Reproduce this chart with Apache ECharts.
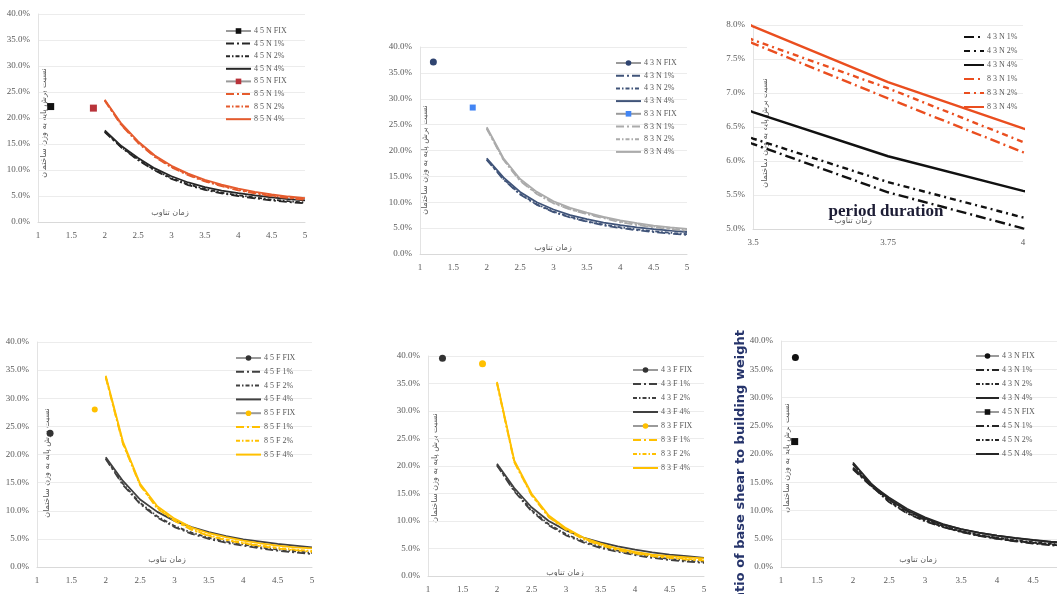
<!DOCTYPE html>
<html><head><meta charset="utf-8">
<script src="https://cdn.jsdelivr.net/npm/echarts@6/dist/echarts.min.js"></script>
<style>
html,body{margin:0;padding:0;background:#fff;width:1057px;height:594px;overflow:hidden;position:relative}
.c{position:absolute}
</style></head><body>
<div id="c1" class="c" style="left:0;top:0;width:350px;height:300px"></div>
<div id="c2" class="c" style="left:350px;top:0;width:350px;height:300px"></div>
<div id="c3" class="c" style="left:700px;top:0;width:357px;height:300px"></div>
<div id="c4" class="c" style="left:0;top:300px;width:350px;height:294px"></div>
<div id="c5" class="c" style="left:350px;top:300px;width:360px;height:294px"></div>
<div id="c6" class="c" style="left:710px;top:300px;width:390px;height:294px"></div>
<script>
// ---------- data (ratio in %) ----------
const periods = [2,2.25,2.5,2.75,3,3.25,3.5,3.75,4,4.25,4.5,4.75,5];

// 4 5 N / 8 5 N
const n45_fix = [1.19, 22.2];
const n45_1 = [17.3,14.3,11.9,9.9,8.3,7.1,6.2,5.5,5.0,4.55,4.15,3.85,3.6];
const n45_2 = [17.4,14.4,12.0,10.0,8.45,7.25,6.35,5.65,5.15,4.7,4.3,4.0,3.75];
const n45_4 = [17.6,14.6,12.3,10.3,8.8,7.6,6.7,6.05,5.55,5.1,4.75,4.4,4.15];
const n85_fix = [1.83, 21.9];
const n85_1 = [23.3,18.6,15.2,12.5,10.5,9.0,7.8,6.9,6.1,5.5,5.0,4.6,4.3];
const n85_2 = [23.4,18.7,15.3,12.6,10.6,9.1,7.9,7.0,6.2,5.6,5.1,4.7,4.4];
const n85_4 = [23.5,18.9,15.5,12.8,10.8,9.3,8.1,7.2,6.4,5.8,5.3,4.9,4.6];

// 4 3 N / 8 3 N
const n43_fix = [1.2, 37.1];
const n43_1 = [18.2,14.4,11.5,9.5,8.1,7.05,6.25,5.54,5.01,4.6,4.25,3.95,3.7];
const n43_2 = [18.3,14.5,11.6,9.6,8.2,7.15,6.33,5.69,5.17,4.75,4.4,4.1,3.85];
const n43_4 = [18.5,14.8,12.0,10.0,8.6,7.5,6.72,6.07,5.56,5.15,4.8,4.5,4.25];
const n83_fix = [1.79, 28.3];
const n83_1 = [24.2,18.2,14.1,11.6,9.8,8.6,7.73,6.92,6.13,5.6,5.15,4.8,4.5];
const n83_2 = [24.3,18.3,14.2,11.7,9.9,8.65,7.78,7.07,6.28,5.75,5.3,4.95,4.65];
const n83_4 = [24.5,18.5,14.5,12.0,10.2,8.9,7.98,7.16,6.48,5.95,5.5,5.15,4.85];

// 4 5 F / 8 5 F
const f45_fix = [1.19, 23.8];
const f45_1 = [19.2,14.6,11.2,8.8,7.1,5.9,5.0,4.3,3.8,3.3,2.9,2.6,2.3];
const f45_2 = [19.3,14.8,11.4,9.0,7.3,6.1,5.2,4.5,4.0,3.5,3.1,2.8,2.5];
const f45_4 = [19.5,15.3,12.0,9.8,8.2,7.1,6.2,5.5,4.9,4.5,4.1,3.8,3.5];
const f85_fix = [1.84, 28.0];
const f85_1 = [33.7,21.9,14.5,10.4,8.2,6.6,5.5,4.8,4.2,3.7,3.3,3.0,2.7];
const f85_2 = [33.8,22.0,14.6,10.5,8.3,6.7,5.6,4.9,4.3,3.8,3.4,3.1,2.85];
const f85_4 = [34.0,22.3,14.8,10.8,8.6,7.0,6.0,5.3,4.7,4.2,3.8,3.5,3.3];

// 4 3 F / 8 3 F
const f43_fix = [1.21, 39.6];
const f43_1 = [20.1,15.4,11.8,9.2,7.4,6.1,5.1,4.4,3.8,3.3,2.9,2.6,2.4];
const f43_2 = [20.2,15.6,12.0,9.4,7.6,6.3,5.3,4.6,4.0,3.5,3.1,2.8,2.6];
const f43_4 = [20.4,16.0,12.5,10.0,8.3,7.0,6.1,5.4,4.8,4.3,3.9,3.6,3.3];
const f83_fix = [1.79, 38.6];
const f83_1 = [35.0,20.7,14.7,10.7,8.4,6.7,5.6,4.7,4.1,3.6,3.3,3.0,2.8];
const f83_2 = [35.1,20.8,14.8,10.8,8.5,6.8,5.7,4.8,4.2,3.7,3.4,3.1,2.9];
const f83_4 = [35.3,21.0,15.0,11.0,8.7,7.0,5.9,5.0,4.4,3.9,3.6,3.4,3.2];

const yTitle = 'نسبت برش پایه به وزن ساختمان';
const xTitle = 'زمان تناوب';
const noteX = 'period duration';
const noteY = 'ratio of base shear to building weight';

// ---------- helpers ----------
const SERIF = 'Liberation Serif';
const LBL = '#595959';
const D1 = [8,3,2,3], D2 = [4,2,1.5,2];

function curve(name, ys, color, dash, w) {
  return {type:'line', name, data: periods.map((x,i)=>[x, ys[i]]), symbol:'none',
    lineStyle:{color, width:w||1.8, type:dash||'solid'}, itemStyle:{color}, animation:false, z:3};
}
function fix(name, pt, color, sym, size) {
  return {type:'line', name, data:[pt], symbol:sym||'circle', symbolSize:size||7, showSymbol:true,
    lineStyle:{color:'#9a9a9a', width:1}, itemStyle:{color}, animation:false, z:4};
}
function xAx(min,max,interval){
  return {type:'value', min, max, interval,
    axisLine:{show:true, lineStyle:{color:'#d9d9d9'}}, axisTick:{show:false}, splitLine:{show:false},
    axisLabel:{color:LBL, fontFamily:SERIF, fontSize:9, margin:9, formatter:v=>String(v)}};
}
function yAx(min,max,interval){
  return {type:'value', min, max, interval,
    axisLine:{show:true, lineStyle:{color:'#e3e3e3'}}, axisTick:{show:false},
    splitLine:{lineStyle:{color:'#ececec'}},
    axisLabel:{color:LBL, fontFamily:SERIF, fontSize:9, margin:8, formatter:v=>v.toFixed(1)+'%'}};
}
// legend: FIX entries keep their marker, curve entries show only the line
function legend(left, top, gap, names, w){
  return {orient:'vertical', left, top, itemWidth:w||25, itemHeight:7, itemGap:gap, selectedMode:false,
    textStyle:{fontFamily:SERIF, fontSize:8, color:LBL, padding:[0,0,0,-2]},
    data:names.map(n => n.indexOf('FIX') >= 0 ? {name:n} : {name:n, itemStyle:{opacity:0}})};
}
function titles(yx, yy, xx, xy){
  return [
    {type:'text', x:yx, y:yy, rotation:Math.PI/2, style:{text:yTitle, fontSize:8, fill:LBL, fontFamily:'DejaVu Sans', align:'center', verticalAlign:'middle'}},
    {type:'text', x:xx, y:xy, style:{text:xTitle, fontSize:8, fill:LBL, fontFamily:'DejaVu Sans', align:'center', verticalAlign:'middle'}}
  ];
}
function make(id, opt){
  const ch = echarts.init(document.getElementById(id), null, {renderer:'canvas'});
  opt.animation = false;
  ch.setOption(opt);
}

// ---------- chart 1 ----------
const BLK = '#262626', RED = '#E55B2D';
make('c1', {
  grid:{left:38, top:14, width:267, height:208},
  xAxis: xAx(1,5,0.5), yAxis: yAx(0,40,5),
  legend: legend(220, 22, 4.6, ['4 5 N FIX','4 5 N 1%','4 5 N 2%','4 5 N 4%','8 5 N FIX','8 5 N 1%','8 5 N 2%','8 5 N 4%']),
  graphic: titles(44, 123, 170, 213),
  series:[
    fix('4 5 N FIX', n45_fix, '#111', 'rect'),
    curve('4 5 N 1%', n45_1, BLK, D1), curve('4 5 N 2%', n45_2, BLK, D2), curve('4 5 N 4%', n45_4, BLK),
    fix('8 5 N FIX', n85_fix, '#B8333A', 'rect'),
    curve('8 5 N 1%', n85_1, RED, D1), curve('8 5 N 2%', n85_2, RED, D2), curve('8 5 N 4%', n85_4, RED)
  ]
});

// ---------- chart 2 ----------
const NAVY = '#405479', GRY = '#ababab';
make('c2', {
  grid:{left:70, top:47, width:267, height:207},
  xAxis: xAx(1,5,0.5), yAxis: yAx(0,40,5),
  legend: legend(260, 54, 4.7, ['4 3 N FIX','4 3 N 1%','4 3 N 2%','4 3 N 4%','8 3 N FIX','8 3 N 1%','8 3 N 2%','8 3 N 4%']),
  graphic: titles(75, 160, 203, 248),
  series:[
    fix('4 3 N FIX', n43_fix, '#2F4470'),
    curve('4 3 N 1%', n43_1, NAVY, D1), curve('4 3 N 2%', n43_2, NAVY, D2), curve('4 3 N 4%', n43_4, NAVY),
    fix('8 3 N FIX', n83_fix, '#4285F4', 'rect', 6),
    curve('8 3 N 1%', n83_1, GRY, D1), curve('8 3 N 2%', n83_2, GRY, D2), curve('8 3 N 4%', n83_4, GRY)
  ]
});

// ---------- chart 3 (zoom 3.5 - 4) ----------
const OR3 = '#EA4E1F', BK3 = '#111111';
make('c3', {
  grid:{left:53, top:25, width:270, height:204},
  xAxis: xAx(3.5,4,0.25), yAxis: yAx(5,8,0.5),
  legend: legend(258, 28, 6, ['4 3 N 1%','4 3 N 2%','4 3 N 4%','8 3 N 1%','8 3 N 2%','8 3 N 4%'], 20),
  graphic: titles(65, 133, 153, 221).concat([
    {type:'text', x:186, y:212, z:100, style:{text:noteX, fontSize:17, fontWeight:'bold', fill:'#1d1d35', fontFamily:SERIF, align:'center', verticalAlign:'middle'}}
  ]),
  series:[
    curve('4 3 N 1%', n43_1, BK3, [10,4,2,4], 2.4), curve('4 3 N 2%', n43_2, BK3, [6,4,2,4], 2.4), curve('4 3 N 4%', n43_4, BK3, 'solid', 2.4),
    curve('8 3 N 1%', n83_1, OR3, [10,4,2,4], 2.4), curve('8 3 N 2%', n83_2, OR3, [6,4,2,4], 2.4), curve('8 3 N 4%', n83_4, OR3, 'solid', 2.4)
  ]
});

// ---------- chart 4 ----------
const DG = '#404040', YEL = '#FFC000';
make('c4', {
  grid:{left:37, top:42, width:275, height:225},
  xAxis: xAx(1,5,0.5), yAxis: yAx(0,40,5),
  legend: legend(230, 49, 5.8, ['4 5 F FIX','4 5 F 1%','4 5 F 2%','4 5 F 4%','8 5 F FIX','8 5 F 1%','8 5 F 2%','8 5 F 4%']),
  graphic: titles(47, 163, 167, 260),
  series:[
    fix('4 5 F FIX', f45_fix, '#333'),
    curve('4 5 F 1%', f45_1, DG, D1), curve('4 5 F 2%', f45_2, DG, D2), curve('4 5 F 4%', f45_4, DG),
    fix('8 5 F FIX', f85_fix, YEL, 'circle', 6),
    curve('8 5 F 1%', f85_1, YEL, D1), curve('8 5 F 2%', f85_2, YEL, D2), curve('8 5 F 4%', f85_4, YEL)
  ]
});

// ---------- chart 5 ----------
make('c5', {
  grid:{left:78, top:56, width:276, height:223},
  xAxis: xAx(1,5,0.5), yAxis: yAx(0,40,5),
  legend: legend(277, 61, 6, ['4 3 F FIX','4 3 F 1%','4 3 F 2%','4 3 F 4%','8 3 F FIX','8 3 F 1%','8 3 F 2%','8 3 F 4%']),
  graphic: titles(85, 168, 215, 273),
  series:[
    fix('4 3 F FIX', f43_fix, '#333'),
    curve('4 3 F 1%', f43_1, DG, D1), curve('4 3 F 2%', f43_2, DG, D2), curve('4 3 F 4%', f43_4, DG),
    fix('8 3 F FIX', f83_fix, YEL),
    curve('8 3 F 1%', f83_1, YEL, D1), curve('8 3 F 2%', f83_2, YEL, D2), curve('8 3 F 4%', f83_4, YEL)
  ]
});

// ---------- chart 6 ----------
make('c6', {
  grid:{left:71, top:41, width:288, height:226},
  xAxis: xAx(1,5,0.5), yAxis: yAx(0,40,5),
  legend: legend(260, 47, 6, ['4 3 N FIX','4 3 N 1%','4 3 N 2%','4 3 N 4%','4 5 N FIX','4 5 N 1%','4 5 N 2%','4 5 N 4%'], 23),
  graphic: titles(77, 158, 208, 260).concat([
    {type:'text', x:31, y:30, rotation:Math.PI/2, z:100, style:{text:noteY, fontSize:13, fontWeight:'bold', fill:'#26346b', fontFamily:'DejaVu Sans', align:'right', verticalAlign:'middle'}}
  ]),
  series:[
    fix('4 3 N FIX', n43_fix, '#111'),
    curve('4 3 N 1%', n43_1, BLK, D1), curve('4 3 N 2%', n43_2, BLK, D2), curve('4 3 N 4%', n43_4, BLK),
    fix('4 5 N FIX', n45_fix, '#111', 'rect'),
    curve('4 5 N 1%', n45_1, BLK, D1), curve('4 5 N 2%', n45_2, BLK, D2), curve('4 5 N 4%', n45_4, BLK)
  ]
});
</script>
</body></html>
